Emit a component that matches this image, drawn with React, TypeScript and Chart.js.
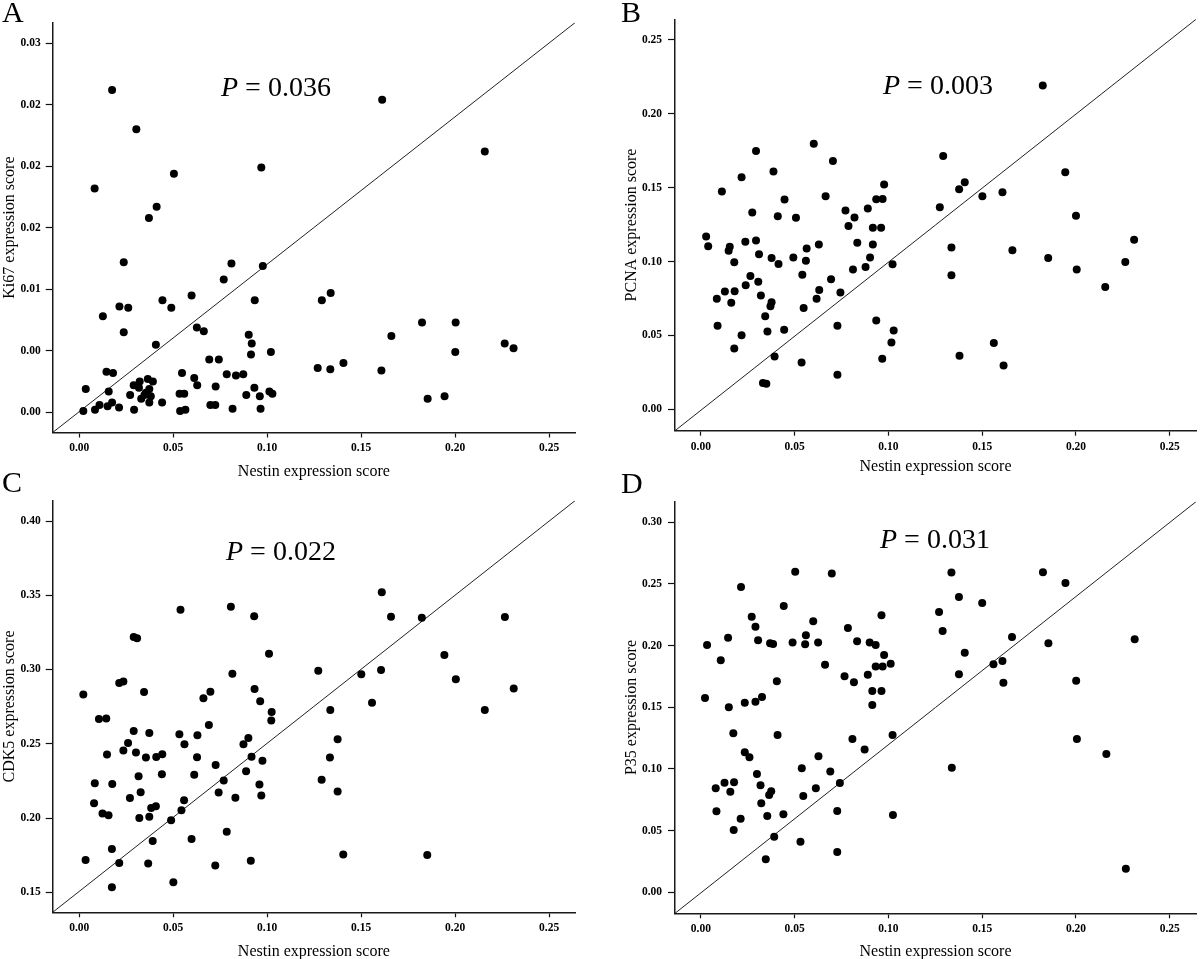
import React, { useEffect, useRef } from "react";
import { Chart, registerables } from "chart.js";

Chart.register(...registerables);

const FONT = '"Liberation Serif", "Times New Roman", Times, serif';

// ---------- shared x axis (Nestin) ----------
const nestinTicks = [0, 0.05, 0.1, 0.15, 0.2, 0.25];
const nestinTickLabels = ["0.00", "0.05", "0.10", "0.15", "0.20", "0.25"];
const nestinTitle = "Nestin expression score";

// ---------- Panel A : Ki67 ----------
const ki67Ticks = [0, 0.005, 0.01, 0.015, 0.02, 0.025, 0.03];
const ki67TickLabels = ["0.00", "0.00", "0.01", "0.02", "0.02", "0.02", "0.03"];
const nestinA = [0.0175,0.1612,0.0304,0.2158,0.0969,0.0504,0.0082,0.0412,0.0371,0.0237,0.0810,0.0977,0.0769,0.1338,0.1291,0.0598,0.0443,0.0934,0.0214,0.0261,0.0490,0.0126,0.1824,0.2003,0.0237,0.0626,0.0663,0.0902,0.1661,0.0918,0.0408,0.2264,0.2311,0.1020,0.2001,0.0914,0.0692,0.0743,0.1406,0.1269,0.1336,0.1608,0.0145,0.0180,0.0547,0.0785,0.0834,0.0873,0.0612,0.0322,0.0365,0.0392,0.0290,0.0628,0.0932,0.0726,0.0035,0.0318,0.0373,0.0157,0.0355,0.0271,0.0347,0.0381,0.0534,0.0559,0.0889,0.0961,0.1012,0.1028,0.0330,0.1854,0.1944,0.0175,0.0373,0.0441,0.0108,0.0151,0.0212,0.0698,0.0724,0.0084,0.0292,0.0022,0.0537,0.0565,0.0816,0.0965];
const ki67 = [0.0262,0.0254,0.0230,0.0212,0.0199,0.0194,0.0182,0.0167,0.0158,0.0122,0.0121,0.0119,0.0108,0.0097,0.0091,0.0095,0.0091,0.0091,0.0086,0.0085,0.0085,0.0078,0.0073,0.0073,0.0065,0.0069,0.0066,0.0063,0.0062,0.0056,0.0055,0.0056,0.0052,0.0049,0.0049,0.0047,0.0043,0.0043,0.0040,0.0036,0.0035,0.0034,0.0033,0.0032,0.0032,0.0031,0.0030,0.0031,0.0028,0.0025,0.0027,0.0025,0.0022,0.0022,0.0020,0.0021,0.0019,0.0020,0.0019,0.0017,0.0016,0.0014,0.0014,0.0013,0.0015,0.0015,0.0014,0.0013,0.0017,0.0015,0.0011,0.0011,0.0013,0.0008,0.0008,0.0008,0.0006,0.0005,0.0004,0.0006,0.0006,0.0002,0.0002,0.0001,0.0001,0.0002,0.0003,0.0003];

// ---------- Panel B : PCNA ----------
const pcnaTicks = [0, 0.05, 0.1, 0.15, 0.2, 0.25];
const pcnaTickLabels = ["0.00", "0.05", "0.10", "0.15", "0.20", "0.25"];
const nestinB = [0.1823,0.0602,0.0294,0.1292,0.0704,0.1943,0.0387,0.0217,0.0112,0.1608,0.1407,0.1377,0.1501,0.0977,0.0665,0.0446,0.0935,0.0969,0.1274,0.0771,0.0890,0.0274,0.0410,0.0507,0.0819,0.2000,0.0787,0.0917,0.0961,0.0028,0.0039,0.0294,0.2310,0.0237,0.0154,0.0148,0.0629,0.0834,0.0917,0.0564,0.1336,0.1661,0.0310,0.0377,0.0493,0.0902,0.1852,0.0178,0.2263,0.0560,0.0414,0.1022,0.2004,0.0811,0.0878,0.0264,0.0541,0.1336,0.0306,0.0694,0.0239,0.2156,0.0631,0.0128,0.0180,0.0744,0.0320,0.0085,0.0617,0.0162,0.0377,0.0371,0.0548,0.0343,0.0089,0.0728,0.0935,0.0444,0.0355,0.1028,0.0217,0.1016,0.1562,0.0178,0.0393,0.1379,0.0967,0.0537,0.1614,0.0728,0.0331,0.0349];
const pcna = [0.2192,0.1798,0.1748,0.1715,0.1681,0.1604,0.1609,0.1571,0.1474,0.1469,0.1537,0.1490,0.1442,0.1521,0.1442,0.1420,0.1422,0.1424,0.1368,0.1346,0.1359,0.1332,0.1307,0.1296,0.1298,0.1310,0.1240,0.1229,0.1229,0.1170,0.1103,0.1143,0.1148,0.1134,0.1100,0.1073,0.1116,0.1127,0.1116,0.1089,0.1096,0.1076,0.1049,0.1024,0.1028,0.1028,0.1024,0.0995,0.0997,0.1006,0.0983,0.0981,0.0947,0.0947,0.0963,0.0902,0.0911,0.0907,0.0864,0.0880,0.0839,0.0828,0.0808,0.0797,0.0799,0.0790,0.0770,0.0749,0.0749,0.0722,0.0725,0.0698,0.0686,0.0630,0.0565,0.0565,0.0601,0.0538,0.0527,0.0533,0.0502,0.0452,0.0448,0.0412,0.0358,0.0362,0.0342,0.0317,0.0297,0.0234,0.0178,0.0173];

// ---------- Panel C : CDK5 ----------
const cdk5Ticks = [0.15, 0.2, 0.25, 0.3, 0.35, 0.4];
const cdk5TickLabels = ["0.15", "0.20", "0.25", "0.30", "0.35", "0.40"];
const nestinC = [0.1610,0.0807,0.0539,0.0931,0.1659,0.1823,0.2265,0.0290,0.0308,0.1010,0.1943,0.1272,0.1606,0.0815,0.1501,0.2004,0.0213,0.0235,0.2312,0.0933,0.0022,0.0345,0.0698,0.0661,0.0963,0.1558,0.1336,0.1024,0.2158,0.0105,0.0144,0.1022,0.0690,0.0290,0.0373,0.0533,0.0629,0.1375,0.0900,0.0260,0.0560,0.0874,0.0235,0.0302,0.0148,0.0442,0.0355,0.0410,0.0627,0.0917,0.1334,0.0975,0.0726,0.0888,0.0316,0.0440,0.0612,0.0769,0.1290,0.0083,0.0176,0.0959,0.0327,0.0742,0.1375,0.0969,0.0831,0.0270,0.0558,0.0079,0.0408,0.0383,0.0544,0.0124,0.0156,0.0373,0.0320,0.0489,0.0785,0.0598,0.0391,0.0174,0.0034,0.0913,0.0213,0.0367,0.0724,0.1405,0.1852,0.0501,0.0174];
const cdk5 = [0.3520,0.3423,0.3403,0.3358,0.3356,0.3349,0.3354,0.3219,0.3210,0.3107,0.3098,0.2992,0.2997,0.2972,0.2968,0.2934,0.2909,0.2920,0.2873,0.2869,0.2831,0.2849,0.2851,0.2806,0.2786,0.2777,0.2727,0.2714,0.2727,0.2667,0.2671,0.2656,0.2626,0.2586,0.2573,0.2564,0.2557,0.2530,0.2539,0.2505,0.2496,0.2496,0.2454,0.2442,0.2427,0.2429,0.2407,0.2411,0.2409,0.2413,0.2407,0.2386,0.2357,0.2315,0.2281,0.2294,0.2292,0.2252,0.2258,0.2234,0.2229,0.2225,0.2173,0.2171,0.2178,0.2151,0.2137,0.2135,0.2119,0.2099,0.2079,0.2068,0.2052,0.2030,0.2018,0.2009,0.2000,0.1985,0.1908,0.1859,0.1846,0.1792,0.1718,0.1713,0.1697,0.1693,0.1680,0.1754,0.1751,0.1567,0.1534];

// ---------- Panel D : P35 ----------
const p35Ticks = [0, 0.05, 0.1, 0.15, 0.2, 0.25, 0.3];
const p35TickLabels = ["0.00", "0.05", "0.10", "0.15", "0.20", "0.25", "0.30"];
const nestinD = [0.0503,0.0698,0.1336,0.1824,0.1944,0.0214,0.1376,0.1500,0.0442,0.1270,0.0271,0.0963,0.0599,0.0291,0.0784,0.1289,0.0560,0.0145,0.1659,0.2313,0.0305,0.0033,0.0369,0.0385,0.0489,0.0556,0.0625,0.0833,0.0900,0.0932,0.1853,0.1407,0.0977,0.0106,0.0662,0.1012,0.0932,0.0969,0.1560,0.1608,0.0766,0.0890,0.1376,0.0405,0.0816,0.1613,0.2001,0.0914,0.0963,0.0326,0.0022,0.0291,0.0234,0.0149,0.0914,0.0173,0.0409,0.1022,0.0808,0.2005,0.0873,0.2162,0.0234,0.0259,0.0627,0.0538,0.1338,0.0690,0.0299,0.0126,0.0177,0.0741,0.0079,0.0157,0.0318,0.0364,0.0375,0.0546,0.0613,0.0322,0.0083,0.0727,0.0440,0.0354,0.1024,0.0212,0.0175,0.0391,0.0531,0.0727,0.0346,0.2266];
const p35 = [0.2600,0.2584,0.2592,0.2595,0.2508,0.2476,0.2395,0.2346,0.2322,0.2273,0.2235,0.2246,0.2198,0.2154,0.2143,0.2119,0.2084,0.2065,0.2071,0.2052,0.2043,0.2006,0.2019,0.2014,0.2025,0.2011,0.2025,0.2035,0.2025,0.2006,0.2019,0.1943,0.1925,0.1881,0.1846,0.1854,0.1830,0.1830,0.1849,0.1876,0.1752,0.1765,0.1768,0.1711,0.1703,0.1700,0.1716,0.1633,0.1633,0.1584,0.1576,0.1546,0.1538,0.1500,0.1519,0.1289,0.1276,0.1276,0.1243,0.1243,0.1157,0.1122,0.1135,0.1095,0.1103,0.1006,0.1011,0.0979,0.0960,0.0889,0.0892,0.0887,0.0843,0.0816,0.0868,0.0789,0.0819,0.0781,0.0843,0.0722,0.0657,0.0660,0.0633,0.0619,0.0627,0.0597,0.0505,0.0451,0.0411,0.0327,0.0268,0.0192];

// axis ranges [xMin, xMax, yMin, yMax]
const rangeA = [-0.0141, 0.2638, -0.00164, 0.03167];
const rangeB = [-0.0138, 0.264, -0.0145, 0.264];
const rangeC = [-0.0141, 0.2638, 0.1365, 0.4137];
const rangeD = [-0.0138, 0.264, -0.017, 0.3167];

const pValues = ["0.036", "0.003", "0.022", "0.031"];

type Panel = {
  xs: number[];
  ys: number[];
  range: number[];
  yTicks: number[];
  yLabels: string[];
  yTitle: string;
  p: string;
  left: number;
  top: number;
  yAxisWidth: number;
  xAxisHeight: number;
  padTop: number;
  padRight: number;
  yTitlePad: number;
  yTickPad: number;
  xTitlePadBottom: number;
  pX: number;
  pY: number;
};

const panels: Panel[] = [
  { xs: nestinA, ys: ki67, range: rangeA, yTicks: ki67Ticks, yLabels: ki67TickLabels, yTitle: "Ki67 expression score", p: pValues[0],
    left: 0, top: 0, yAxisWidth: 52.7, xAxisHeight: 47.5, padTop: 22.7, padRight: 25, yTitlePad: 0.5, yTickPad: 5, xTitlePadBottom: -1, pX: 221, pY: 96 },
  { xs: nestinB, ys: pcna, range: rangeB, yTicks: pcnaTicks, yLabels: pcnaTickLabels, yTitle: "PCNA expression score", p: pValues[1],
    left: 600, top: 0, yAxisWidth: 75, xAxisHeight: 49.3, padTop: 19.3, padRight: 0, yTitlePad: 22, yTickPad: 6, xTitlePadBottom: 3.5, pX: 283, pY: 94 },
  { xs: nestinC, ys: cdk5, range: rangeC, yTicks: cdk5Ticks, yLabels: cdk5TickLabels, yTitle: "CDK5 expression score", p: pValues[2],
    left: 0, top: 480, yAxisWidth: 52.7, xAxisHeight: 47.7, padTop: 20.7, padRight: 25, yTitlePad: 0.5, yTickPad: 5, xTitlePadBottom: -1, pX: 226, pY: 80 },
  { xs: nestinD, ys: p35, range: rangeD, yTicks: p35Ticks, yLabels: p35TickLabels, yTitle: "P35 expression score", p: pValues[3],
    left: 600, top: 480, yAxisWidth: 75, xAxisHeight: 46.7, padTop: 21.7, padRight: 0, yTitlePad: 22, yTickPad: 6, xTitlePadBottom: -1, pX: 280, pY: 68 },
];

const letters = [
  { t: "A", x: 2, y: -3 },
  { t: "B", x: 621, y: -3 },
  { t: "C", x: 2, y: 467 },
  { t: "D", x: 621, y: 468 },
];

const pTextPlugin = {
  id: "pText",
  afterDraw(chart: any, _args: any, opts: any) {
    const ctx = chart.ctx;
    ctx.save();
    ctx.fillStyle = "#000";
    ctx.textAlign = "left";
    ctx.textBaseline = "alphabetic";
    ctx.font = `italic 28px ${FONT}`;
    ctx.fillText("P", opts.x, opts.y);
    const w = ctx.measureText("P").width;
    ctx.font = `28px ${FONT}`;
    ctx.fillText(" = " + opts.value, opts.x + w, opts.y);
    ctx.restore();
  },
};

function makeConfig(pn: Panel): any {
  const n = Math.min(pn.xs.length, pn.ys.length);
  const pts = [];
  for (let i = 0; i < n; i++) pts.push({ x: pn.xs[i], y: pn.ys[i] });
  const [x0, x1, y0, y1] = pn.range;
  const diag = [
    { x: x0, y: y0 },
    { x: x1, y: y1 },
  ];
  const tickFont = { family: FONT, size: 11.5, weight: "bold" };
  const titleFont = { family: FONT, size: 16, weight: "normal" };
  return {
    type: "scatter",
    data: {
      datasets: [
        {
          data: pts,
          backgroundColor: "#000",
          borderWidth: 0,
          pointRadius: 4,
          pointHoverRadius: 4,
          order: 1,
        },
        {
          data: diag,
          showLine: true,
          borderColor: "#222",
          borderWidth: 1,
          pointRadius: 0,
          pointHoverRadius: 0,
          order: 2,
        },
      ],
    },
    options: {
      animation: false,
      responsive: false,
      devicePixelRatio: 1,
      events: [],
      layout: { padding: { top: pn.padTop, right: pn.padRight, left: 0, bottom: 0 } },
      plugins: {
        legend: { display: false },
        tooltip: { enabled: false },
        pText: { x: pn.pX, y: pn.pY, value: pn.p },
      },
      scales: {
        x: {
          type: "linear",
          min: x0,
          max: x1,
          afterBuildTicks: (axis: any) => {
            axis.ticks = nestinTicks.map((v) => ({ value: v }));
          },
          afterFit: (s: any) => {
            s.height = pn.xAxisHeight;
          },
          ticks: {
            autoSkip: false,
            maxRotation: 0,
            padding: 4,
            color: "#000",
            font: tickFont,
            callback: (_v: any, i: number) => nestinTickLabels[i],
          },
          grid: {
            display: true,
            drawOnChartArea: false,
            drawTicks: true,
            tickLength: 5,
            tickColor: "#111",
            tickWidth: 1.2,
          },
          border: { display: true, color: "#1a1a1a", width: 1.5 },
          title: {
            display: true,
            text: nestinTitle,
            color: "#000",
            font: titleFont,
            padding: { top: 0, bottom: pn.xTitlePadBottom },
          },
        },
        y: {
          type: "linear",
          min: y0,
          max: y1,
          afterBuildTicks: (axis: any) => {
            axis.ticks = pn.yTicks.map((v) => ({ value: v }));
          },
          afterFit: (s: any) => {
            s.width = pn.yAxisWidth;
          },
          ticks: {
            autoSkip: false,
            padding: pn.yTickPad,
            color: "#000",
            font: tickFont,
            callback: (_v: any, i: number) => pn.yLabels[i],
          },
          grid: {
            display: true,
            drawOnChartArea: false,
            drawTicks: true,
            tickLength: 7,
            tickColor: "#111",
            tickWidth: 1.2,
          },
          border: { display: true, color: "#1a1a1a", width: 1.5 },
          title: {
            display: true,
            text: pn.yTitle,
            color: "#000",
            font: titleFont,
            padding: { top: pn.yTitlePad, bottom: 0 },
          },
        },
      },
    },
    plugins: [pTextPlugin],
  };
}

export default function App() {
  const refs = useRef<(HTMLCanvasElement | null)[]>([]);

  useEffect(() => {
    const charts: Chart[] = [];
    panels.forEach((pn, i) => {
      const c = refs.current[i];
      if (c) charts.push(new Chart(c, makeConfig(pn)));
    });
    return () => charts.forEach((ch) => ch.destroy());
  }, []);

  return (
    <div
      style={{
        position: "absolute",
        left: 0,
        top: 0,
        width: 1200,
        height: 959,
        background: "#fff",
        overflow: "hidden",
      }}
    >
      {panels.map((pn, i) => (
        <canvas
          key={i}
          ref={(el) => {
            refs.current[i] = el;
          }}
          width={600}
          height={480}
          style={{ position: "absolute", left: pn.left, top: pn.top, width: 600, height: 480 }}
        />
      ))}
      {letters.map((l) => (
        <div
          key={l.t}
          style={{
            position: "absolute",
            left: l.x,
            top: l.y,
            fontFamily: FONT,
            fontSize: 30,
            lineHeight: "30px",
            color: "#000",
          }}
        >
          {l.t}
        </div>
      ))}
    </div>
  );
}
